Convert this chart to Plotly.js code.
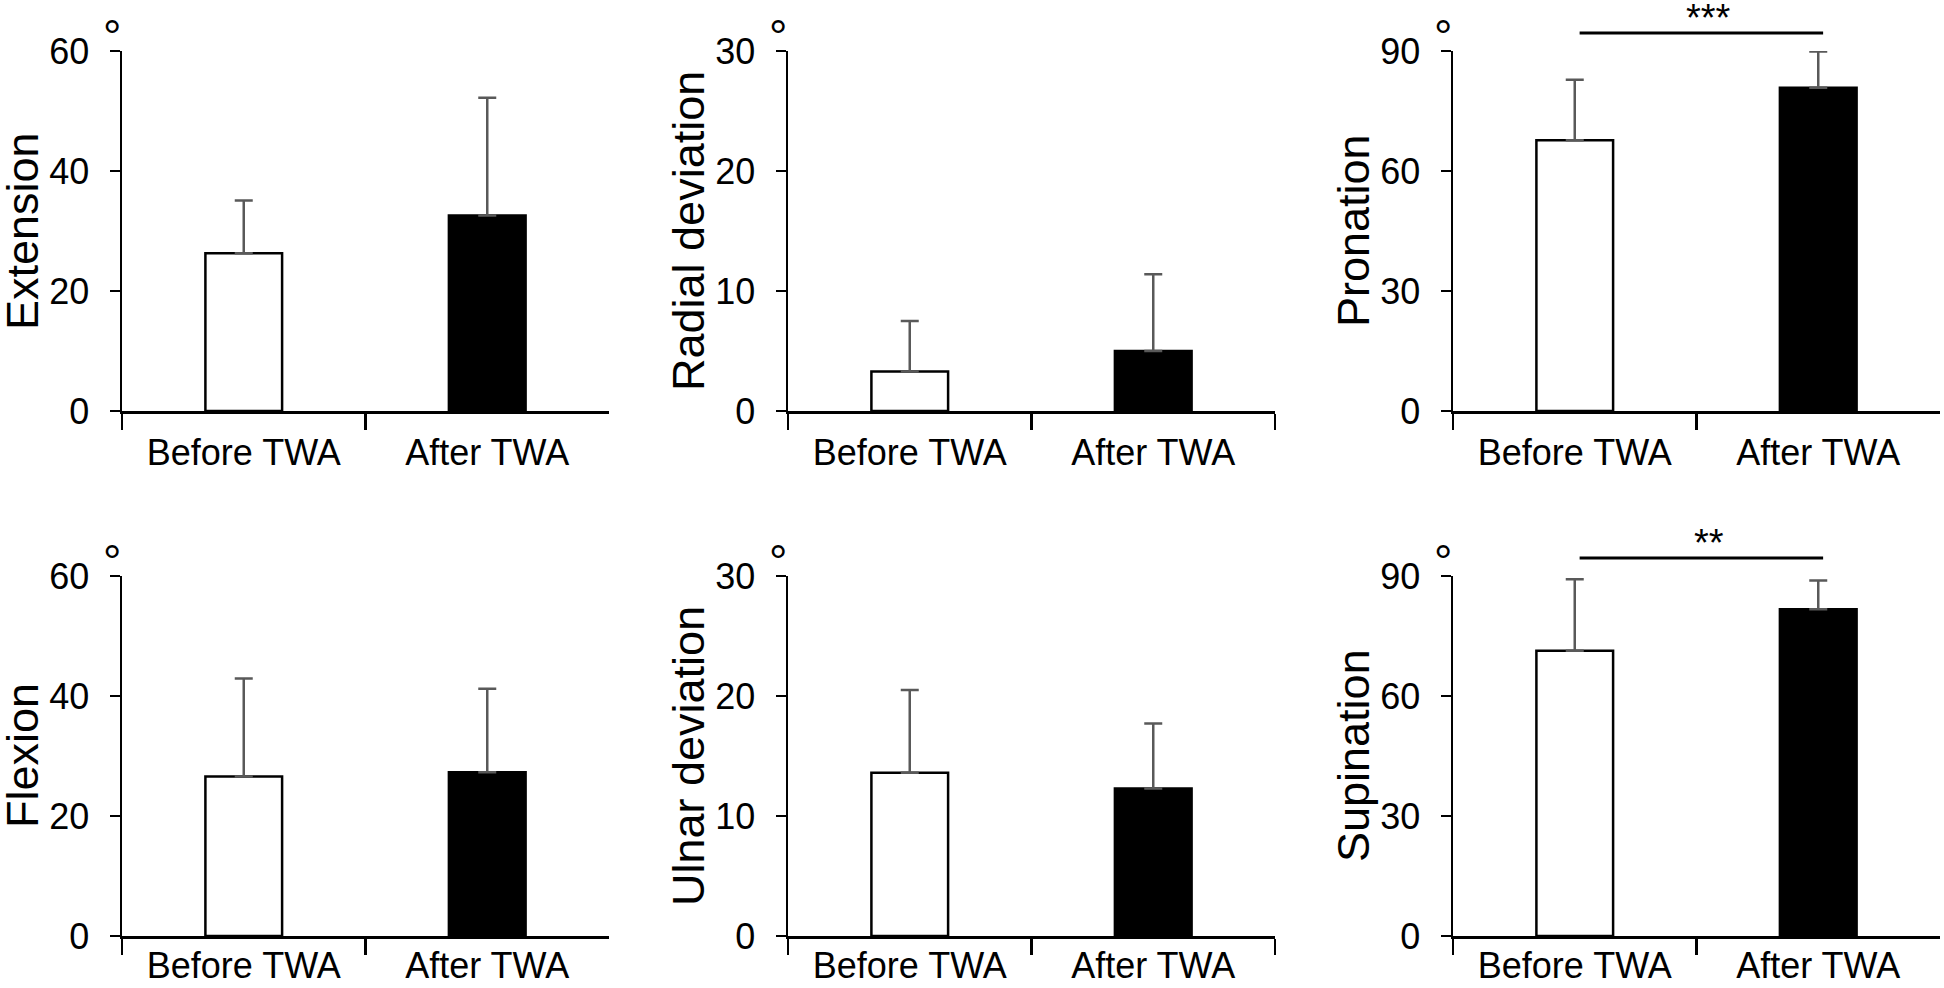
<!DOCTYPE html>
<html>
<head>
<meta charset="utf-8">
<script src="https://cdn.plot.ly/plotly-3.0.1.min.js"></script>
<style>
  html, body { margin: 0; padding: 0; background: #ffffff; }
  #chart { width: 1944px; height: 988px; }
</style>
</head>
<body>
<div id="chart"></div>
<script>
// ── Data (degrees, mean + SD) ──────────────────────────────────────────────────
const categories = ["Before TWA", "After TWA"];
const measures = ["Extension", "Radial deviation", "Pronation", "Flexion", "Ulnar deviation", "Supination"];
const meanBefore = [26.3, 3.3, 67.7, 26.6, 13.6, 71.3];
const meanAfter = [32.6, 5.0, 80.8, 27.3, 12.3, 81.7];
const sdBefore = [8.8, 4.2, 15.1, 16.3, 6.9, 17.9];
const sdAfter = [19.6, 6.4, 9.1, 13.9, 5.4, 7.2];
const yMax = [60, 30, 90, 60, 30, 90];
const yStep = [20, 10, 30, 20, 10, 30];
const significance = ["", "", "***", "", "", "**"];

// ── Panel geometry (pixels on a 1944x988 page) ─────────────────────────────────
const W = 1944, H = 988;
const colLeft = [122, 788, 1453];
const colRight = [609, 1275, 1940];
const rowTop = [51, 576];
const rowBottom = [411, 936];
const labelStandoff = [8, -4]; // bottom row sits close to the page edge

const FONT = "Liberation Sans, Arial, Helvetica, sans-serif";

const traces = [];
const layout = {
  width: W,
  height: H,
  margin: { t: 0, r: 0, b: 0, l: 0 },
  paper_bgcolor: "#ffffff",
  plot_bgcolor: "rgba(0,0,0,0)",
  font: { family: FONT, color: "#000000" },
  showlegend: false,
  annotations: [],
  shapes: [],
};

measures.forEach((name, i) => {
  const col = i % 3;
  const row = Math.floor(i / 3);
  const suf = i === 0 ? "" : String(i + 1);
  const xa = "x" + suf, ya = "y" + suf;

  traces.push({
    type: "bar",
    x: categories,
    y: [meanBefore[i], meanAfter[i]],
    xaxis: xa,
    yaxis: ya,
    width: 0.315,
    marker: { color: ["#ffffff", "#000000"], line: { color: "#000000", width: 2.5 } },
    error_y: {
      type: "data",
      symmetric: false,
      array: [sdBefore[i], sdAfter[i]],
      arrayminus: [0, 0],
      color: "#595959",
      thickness: 2.5,
      width: 9,
    },
    hoverinfo: "skip",
  });

  layout["xaxis" + suf] = {
    domain: [colLeft[col] / W, colRight[col] / W],
    anchor: ya,
    showline: true, linecolor: "#000000", linewidth: 2.5,
    ticks: "outside", tickson: "boundaries", ticklen: 16, tickwidth: 2.5, tickcolor: "#000000",
    tickfont: { family: FONT, size: 36, color: "#000000" },
    ticklabelstandoff: labelStandoff[row],
    showgrid: false, zeroline: false, fixedrange: true,
  };
  layout["yaxis" + suf] = {
    domain: [(H - rowBottom[row]) / H, (H - rowTop[row]) / H],
    anchor: xa,
    range: [0, yMax[i]],
    tick0: 0, dtick: yStep[i],
    showline: true, linecolor: "#000000", linewidth: 2.5,
    ticks: "outside", ticklen: 10, tickwidth: 2.5, tickcolor: "#000000",
    tickfont: { family: FONT, size: 36, color: "#000000" },
    ticklabelstandoff: 13,
    showgrid: false, zeroline: false, fixedrange: true,
  };

  // axis title, drawn as rotated text left of the tick labels
  layout.annotations.push({
    xref: xa + " domain", yref: ya + " domain",
    x: 0, y: 0.5, xshift: -100,
    xanchor: "center", yanchor: "middle",
    textangle: -90, showarrow: false,
    text: name,
    font: { family: FONT, size: 45, color: "#000000" },
  });
  // degree unit mark above the axis
  layout.annotations.push({
    xref: xa + " domain", yref: ya + " domain",
    x: 0, y: 1, xshift: -10, yshift: 14,
    xanchor: "center", yanchor: "middle",
    showarrow: false, text: "°",
    font: { family: FONT, size: 46, color: "#000000" },
  });

  if (significance[i]) {
    layout.shapes.push({
      type: "line", xref: xa, yref: ya + " domain",
      x0: 0.02, x1: 1.02, y0: 1.05, y1: 1.05,
      line: { color: "#000000", width: 3 },
    });
    layout.annotations.push({
      xref: xa, yref: ya + " domain",
      x: 0.55, y: 1.05, yshift: -8,
      xanchor: "center", yanchor: "bottom",
      showarrow: false, text: significance[i],
      font: { family: FONT, size: 38, color: "#000000" },
    });
  }
});

Plotly.newPlot("chart", traces, layout, { displayModeBar: false, staticPlot: true });
</script>
</body>
</html>
